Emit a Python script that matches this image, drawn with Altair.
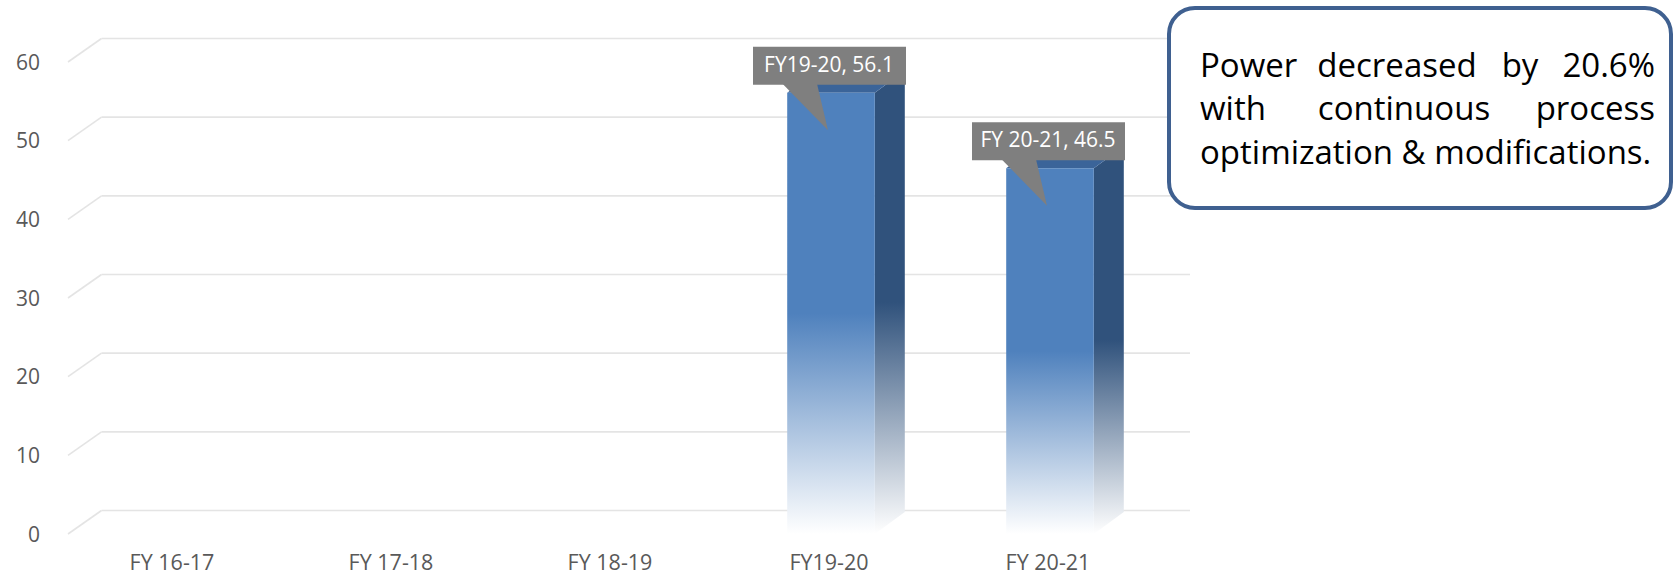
import altair as alt
import pandas as pd

# ---- data -------------------------------------------------------------
categories = ["FY 16-17", "FY 17-18", "FY 18-19", "FY19-20", "FY 20-21"]
power = [None, None, None, 56.1, 46.5]
point_labels = [None, None, None, "FY19-20, 56.1", "FY 20-21, 46.5"]
y_ticks = [0, 10, 20, 30, 40, 50, 60]
note_lines = [
    ["Power", "decreased", "by", "20.6%"],
    ["with", "continuous", "process"],
    ["optimization & modifications."],
]

# ---- layout / style ---------------------------------------------------
W, H = 1674, 579
FONT = "Open Sans"
X_RANGE = [64.5, 1159.5]      # category band extent, pixels
Y_RANGE = [534, 62]           # front edge of the value axis, pixels
STEP_PX = (X_RANGE[1] - X_RANGE[0]) / len(categories)
UNIT_PX = (Y_RANGE[0] - Y_RANGE[1]) / 60
BAR_HALF = 0.2                # half bar width, in category steps
BAR_DEPTH_X, BAR_DEPTH_Y = 30, 22      # bar depth, pixels
WALL_DX, WALL_DY = 33.5, 23.5          # floor depth to back wall, pixels
FLOOR_LEFT = 3.5                       # floor front edge starts right of the band
DX = BAR_DEPTH_X / STEP_PX
DY = BAR_DEPTH_Y / UNIT_PX

BLUE = "#4F81BD"
SIDE = "#30527C"
TOPC = "#3B6499"
GRID = "#E4E4E4"
CALLOUT = "#7F7F7F"
LABEL = "#595959"

xs = alt.Scale(domain=[-0.5, len(categories) - 0.5], range=X_RANGE, nice=False, zero=False)
ys = alt.Scale(domain=[0, 60], range=Y_RANGE, nice=False, zero=False)

# ---- tables -----------------------------------------------------------
cat_df = pd.DataFrame({"idx": range(len(categories)), "cat": categories})
bars = pd.DataFrame({"idx": range(len(categories)), "value": power, "label": point_labels}).dropna()
bars["x0"] = bars["idx"] - BAR_HALF
bars["x1"] = bars["idx"] + BAR_HALF

side_rows, top_rows = [], []
for _, r in bars.iterrows():
    i, v = r["idx"], r["value"]
    side_rows += [
        {"idx": i, "x": i + BAR_HALF, "top": v, "bot": 0},
        {"idx": i, "x": i + BAR_HALF + DX, "top": v + DY, "bot": DY},
    ]
    top_rows += [
        {"idx": i, "x": i - BAR_HALF, "top": v, "bot": v},
        {"idx": i, "x": i - BAR_HALF + DX, "top": v + DY, "bot": v},
        {"idx": i, "x": i + BAR_HALF, "top": v + DY, "bot": v},
        {"idx": i, "x": i + BAR_HALF + DX, "top": v + DY, "bot": v + DY},
    ]
side_df = pd.DataFrame(side_rows)
top_df = pd.DataFrame(top_rows)
grid_df = pd.DataFrame({"v": y_ticks})


def fade(color, solid_until):
    return alt.LinearGradient(
        gradient="linear", x1=0, x2=0, y1=0, y2=1,
        stops=[
            alt.GradientStop(color=color, offset=0),
            alt.GradientStop(color=color, offset=solid_until),
            alt.GradientStop(color="#FFFFFF", offset=1),
        ],
    )


X = lambda f: alt.X(f, type="quantitative", scale=xs, axis=None)
Y = lambda f: alt.Y(f, type="quantitative", scale=ys, axis=None)

# ---- gridlines: back wall + floor diagonals ---------------------------
grid_back = alt.Chart(grid_df).mark_rule(
    color=GRID, strokeWidth=1.6, xOffset=FLOOR_LEFT + WALL_DX, x2Offset=30.5,
    yOffset=-WALL_DY, y2Offset=-WALL_DY,
).encode(
    x=alt.X(datum=-0.5, type="quantitative", scale=xs, axis=None),
    x2=alt.X2(datum=len(categories) - 0.5),
    y=Y("v"),
)
grid_diag = alt.Chart(grid_df).mark_rule(
    color=GRID, strokeWidth=1.6, xOffset=FLOOR_LEFT,
    x2Offset=FLOOR_LEFT + WALL_DX, y2Offset=-WALL_DY,
).encode(
    x=alt.X(datum=-0.5, type="quantitative", scale=xs, axis=None),
    x2=alt.X2(datum=-0.5),
    y=Y("v"),
    y2=alt.Y2("v"),
)

# ---- 3D columns ---------------------------------------------------------
side = alt.Chart(side_df).mark_area(color=fade(SIDE, 0.5), orient="vertical").encode(
    x=X("x"), y=Y("top"), y2=alt.Y2("bot"), detail="idx:N",
)
top = alt.Chart(top_df).mark_area(color=TOPC, orient="vertical").encode(
    x=X("x"), y=Y("top"), y2=alt.Y2("bot"), detail="idx:N",
)
front = alt.Chart(bars).mark_rect(color=fade(BLUE, 0.5)).encode(
    x=X("x0"), x2=alt.X2("x1"), y=Y("value"), y2=alt.Y2(datum=0),
)

# ---- data callouts ------------------------------------------------------
POINTER = "M -0.968 -0.989 L 0.5 -0.989 L 0.968 0.989 Z"
pointer = alt.Chart(bars).mark_point(
    shape=POINTER, size=2209, filled=True, color=CALLOUT, opacity=1,
    strokeWidth=0, xOffset=-25.75, yOffset=14.25,
).encode(x=X("idx"), y=Y("value"))
box = alt.Chart(bars).mark_rect(
    color=CALLOUT, xOffset=-78, x2Offset=75, yOffset=-46, y2Offset=-8,
).encode(x=X("idx"), x2=alt.X2("idx"), y=Y("value"), y2=alt.Y2("value"))
box_text = alt.Chart(bars).mark_text(
    color="white", font=FONT, fontSize=21, baseline="middle", dx=-2, dy=-27,
).encode(x=X("idx"), y=Y("value"), text="label:N")

# ---- axis labels --------------------------------------------------------
y_labels = alt.Chart(grid_df).mark_text(
    align="right", baseline="middle", font=FONT, fontSize=21, color=LABEL, dy=1.5,
).encode(x=alt.value(40), y=Y("v"), text="v:Q")
x_labels = alt.Chart(cat_df).mark_text(
    baseline="middle", font=FONT, fontSize=21.5, color=LABEL, dx=-2,
).encode(x=X("idx"), y=alt.value(564), text="cat:N")

# ---- note box -----------------------------------------------------------
NOTE_LEFT, NOTE_RIGHT = 1200, 1655
NOTE_BASELINES = [77, 120, 164]
NOTE_MIDDLE = [[1397, 1520], [1404], []]
note_rows = []
for words, base, mids in zip(note_lines, NOTE_BASELINES, NOTE_MIDDLE):
    note_rows.append({"w": words[0], "x": NOTE_LEFT, "y": base, "a": "left"})
    if len(words) == 1:
        continue
    for w, m in zip(words[1:-1], mids):
        note_rows.append({"w": w, "x": m, "y": base, "a": "center"})
    note_rows.append({"w": words[-1], "x": NOTE_RIGHT, "y": base, "a": "right"})
note_df = pd.DataFrame(note_rows)

note_frame = alt.Chart(pd.DataFrame({"k": [0]})).mark_rect(
    fill="white", stroke="#3F6090", strokeWidth=4, cornerRadius=26,
).encode(x=alt.value(1169), x2=alt.value(1671), y=alt.value(8), y2=alt.value(208))

note_text = []
for a in ["left", "center", "right"]:
    sub = note_df[note_df["a"] == a]
    note_text.append(
        alt.Chart(sub).mark_text(
            align=a, baseline="alphabetic", font=FONT, fontSize=33, color="black",
        ).encode(
            x=alt.X("x:Q", scale=None, axis=None),
            y=alt.Y("y:Q", scale=None, axis=None),
            text="w:N",
        )
    )

chart = alt.layer(
    grid_back, grid_diag, side, top, front, pointer, box, box_text,
    y_labels, x_labels, note_frame, *note_text,
).properties(
    width=W, height=H, padding=0, background="white",
    autosize=alt.AutoSizeParams(type="none"),
).configure_view(stroke=None)

chart.save("out.html", embed_options={"renderer": "svg", "actions": False})
